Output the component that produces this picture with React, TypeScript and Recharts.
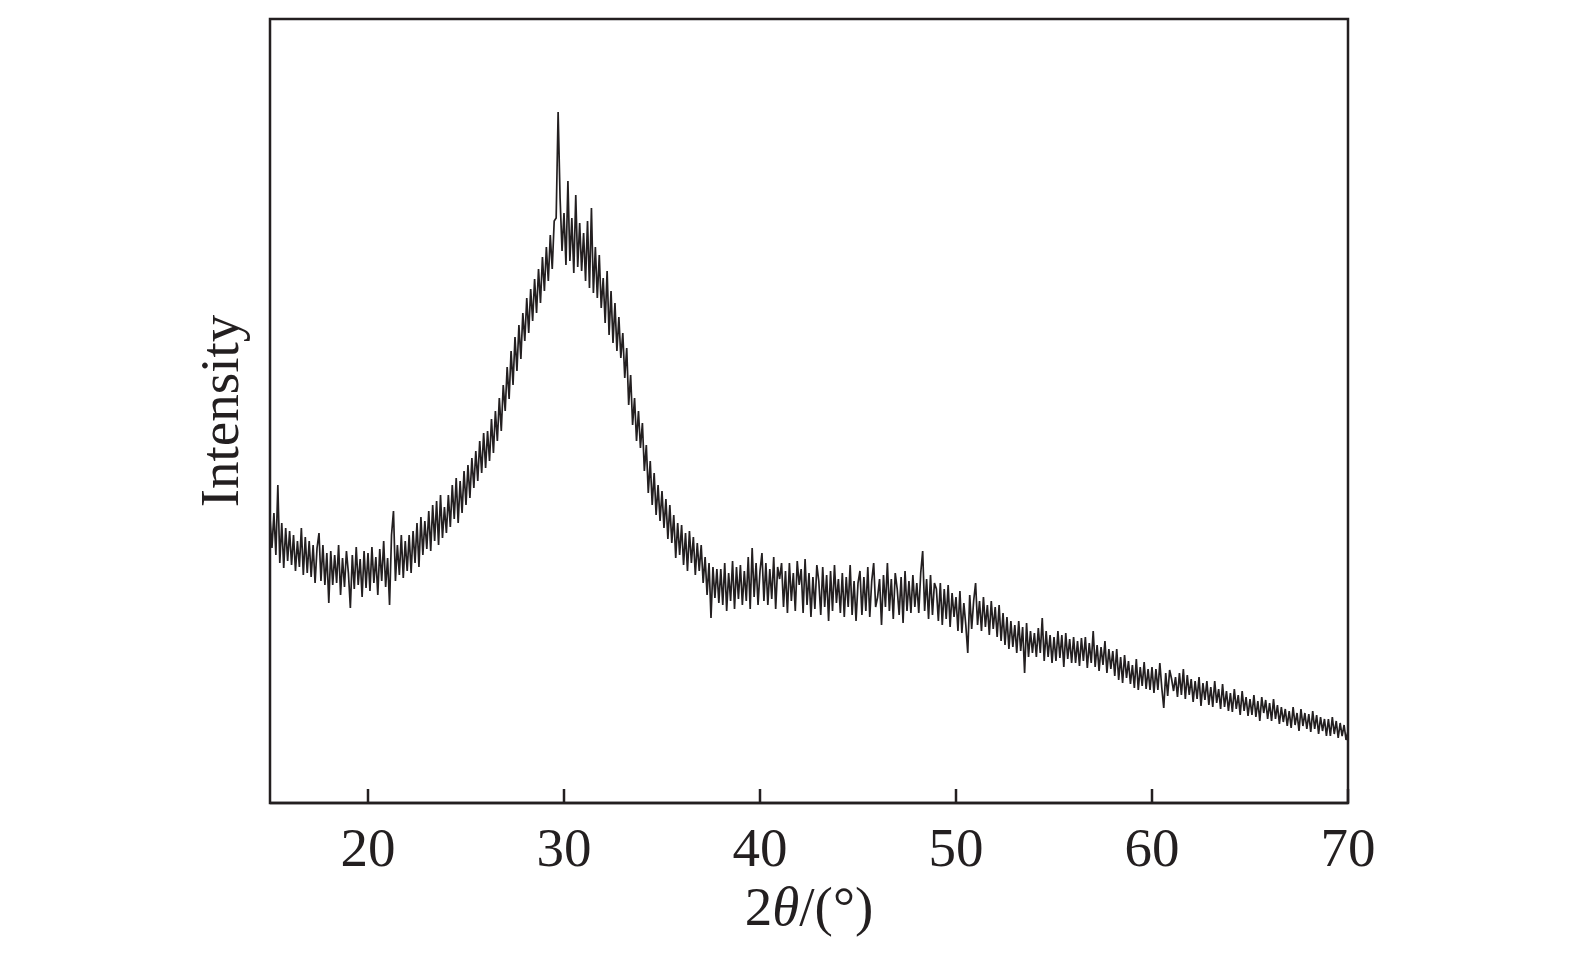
import React from 'react';
import { LineChart, Line, XAxis, YAxis, ReferenceArea } from 'recharts';

// 2θ tick labels
const xTicks = [20, 30, 40, 50, 60, 70];
const angleStart = 15;
const angleStep = 0.1;

// intensity readings (a.u.), one row per degree, 0.1° apart
const intensityLow = [
  285, 255, 290, 248, 318, 240, 280, 235, 275, 242, // 15
  272, 238, 268, 232, 262, 236, 275, 228, 266, 230, // 16
  262, 226, 258, 220, 255, 270, 222, 258, 218, 250, // 17
  200, 252, 218, 248, 220, 258, 208, 245, 216, 252, // 18
  230, 195, 248, 214, 256, 218, 244, 206, 252, 215, // 19
  250, 212, 256, 220, 246, 208, 254, 222, 262, 216, // 20
  245, 198, 268, 292, 222, 258, 228, 268, 225, 262, // 21
  232, 268, 230, 272, 240, 280, 236, 286, 248, 282, // 22
  254, 292, 252, 298, 262, 302, 258, 308, 265, 296, // 23
  270, 308, 276, 318, 284, 325, 280, 322, 290, 332, // 24
];
const intensityPeak = [
  298, 338, 305, 345, 315, 352, 322, 362, 330, 370, // 25
  335, 372, 342, 384, 350, 392, 362, 405, 372, 418, // 26
  392, 436, 404, 452, 418, 466, 432, 478, 444, 490, // 27
  462, 505, 470, 514, 482, 524, 490, 534, 500, 546, // 28
  512, 556, 522, 568, 534, 582, 585, 691, 605, 552, // 29
  590, 538, 622, 542, 585, 530, 608, 536, 580, 532, // 30
  570, 522, 582, 515, 595, 510, 556, 505, 548, 495, // 31
  525, 480, 532, 468, 512, 460, 500, 452, 486, 445, // 32
  470, 425, 455, 398, 428, 378, 405, 362, 392, 355, // 33
  380, 332, 358, 310, 342, 298, 330, 288, 318, 282, // 34
  312, 275, 304, 264, 298, 260, 288, 245, 280, 248, // 35
  278, 238, 270, 232, 272, 240, 266, 228, 260, 232, // 36
];
const intensityMid = [
  258, 220, 246, 208, 240, 185, 236, 205, 234, 200, // 37
  234, 198, 240, 192, 230, 202, 242, 194, 236, 204, // 38
  238, 198, 232, 202, 246, 194, 255, 206, 240, 198, // 39
  232, 250, 202, 240, 198, 234, 204, 246, 194, 236, // 40
  224, 240, 196, 232, 190, 240, 202, 230, 192, 242, // 41
  218, 234, 190, 244, 198, 230, 186, 226, 194, 238, // 42
  222, 188, 236, 196, 228, 182, 232, 192, 238, 200, // 43
  224, 190, 230, 186, 226, 196, 238, 188, 222, 182, // 44
  220, 232, 188, 226, 192, 236, 186, 222, 240, 196, // 45
  206, 224, 178, 228, 196, 240, 192, 224, 184, 230, // 46
  214, 188, 226, 180, 232, 192, 222, 190, 228, 196, // 47
  220, 190, 230, 252, 192, 224, 184, 228, 188, 220, // 48
  214, 182, 220, 178, 214, 184, 218, 176, 210, 186, // 49
];
const intensityHigh = [
  206, 172, 212, 170, 200, 178, 150, 208, 174, 202, // 50
  220, 178, 202, 172, 206, 176, 198, 168, 202, 174, // 51
  196, 166, 198, 162, 190, 158, 186, 154, 182, 156, // 52
  178, 150, 182, 152, 176, 130, 180, 146, 172, 150, // 53
  170, 146, 175, 150, 185, 142, 172, 146, 168, 140, // 54
  166, 142, 172, 145, 168, 136, 170, 144, 164, 140, // 55
  166, 140, 162, 137, 165, 142, 166, 135, 160, 140, // 56
  172, 136, 158, 132, 156, 138, 162, 130, 154, 134, // 57
  152, 127, 154, 123, 146, 120, 148, 125, 142, 119, // 58
  138, 115, 144, 113, 136, 117, 141, 114, 134, 113, // 59
];
const intensityTail = [
  136, 110, 134, 113, 140, 115, 95, 130, 107, 133, // 60
  124, 112, 126, 106, 130, 108, 134, 104, 128, 108, // 61
  124, 101, 122, 104, 126, 97, 120, 103, 122, 98, // 62
  116, 96, 122, 100, 114, 94, 119, 96, 112, 92, // 63
  110, 91, 114, 94, 108, 88, 112, 92, 106, 87, // 64
  104, 88, 108, 86, 102, 82, 106, 90, 103, 84, // 65
  100, 82, 104, 84, 98, 79, 96, 81, 94, 77, // 66
  92, 75, 96, 78, 90, 72, 94, 77, 90, 74, // 67
  89, 71, 92, 74, 88, 69, 86, 72, 84, 67, // 68
  84, 67, 86, 69, 82, 65, 80, 67, 78, 63, // 69
  72, // 70
];

const intensity = [
  ...intensityLow,
  ...intensityPeak,
  ...intensityMid,
  ...intensityHigh,
  ...intensityTail,
];

const data = intensity.map((v, i) => ({
  angle: Math.round((angleStart + i * angleStep) * 10) / 10,
  intensity: v,
}));

const INK = '#231f20';
const FONT = '"Liberation Serif", "Times New Roman", serif';
const FS = 55;

const AxisTitles = (props: any) => {
  const vb = props.viewBox || {};
  const cx = vb.x + vb.width / 2;
  const cy = 411;
  return (
    <g>
      <text x={cx} y={925} textAnchor="middle" fill={INK} fontFamily={FONT} fontSize={FS}>
        2<tspan fontStyle="italic">θ</tspan>/(°)
      </text>
      <text
        x={238}
        y={cy}
        textAnchor="middle"
        fill={INK}
        fontFamily={FONT}
        fontSize={FS}
        transform={`rotate(-90, 238, ${cy})`}
      >
        Intensity
      </text>
    </g>
  );
};

export default function App() {
  return (
    <div style={{ position: 'absolute', left: 0, top: 0, width: 1575, height: 963, background: '#fff' }}>
      <LineChart
        width={1575}
        height={963}
        data={data}
        margin={{ top: 19, right: 227, bottom: 100, left: 270 }}
      >
        <XAxis
          dataKey="angle"
          type="number"
          domain={[15, 70]}
          ticks={xTicks}
          allowDataOverflow
          height={60}
          stroke={INK}
          axisLine={{ stroke: INK, strokeWidth: 2.5 }}
          tickLine={{ stroke: INK, strokeWidth: 2.5 }}
          tickSize={-14}
          tickMargin={38}
          tick={{ fill: INK, fontFamily: FONT, fontSize: FS }}
          label={<AxisTitles />}
        />
        <YAxis
          width={0}
          domain={[0, 784]}
          type="number"
          allowDataOverflow
          axisLine={false}
          tickLine={false}
          tick={false}
        />
        <ReferenceArea
          x1={15}
          x2={70}
          y1={0}
          y2={784}
          fill="none"
          stroke={INK}
          strokeWidth={2.5}
          ifOverflow="visible"
        />
        <Line
          type="linear"
          dataKey="intensity"
          stroke={INK}
          strokeWidth={1.7}
          dot={false}
          isAnimationActive={false}
        />
      </LineChart>
    </div>
  );
}
